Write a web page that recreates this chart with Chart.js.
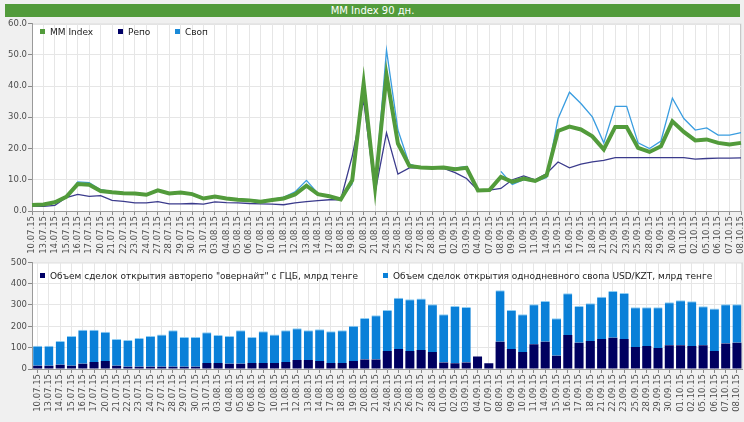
<!DOCTYPE html>
<html>
<head>
<meta charset="utf-8">
<title>MM Index 90 дн.</title>
<script src="https://cdn.jsdelivr.net/npm/chart.js@4.4.0/dist/chart.umd.min.js"></script>
<style>
    body {
        margin: 0;
        width: 744px;
        height: 422px;
        overflow: hidden;
        position: relative;
        background: #f0f0f0;
        font-family: "DejaVu Sans", sans-serif;
    }
    #title {
        position: absolute;
        left: 5px;
        top: 4px;
        width: 735px;
        height: 13px;
        background: #529b3b;
        color: #fff;
        font-size: 10px;
        line-height: 13px;
        text-align: center;
    }
    .chart-box { position: absolute; left: 0; }
    .legend-item {
        position: absolute;
        font-size: 9px;
        line-height: 11px;
        color: #222;
        white-space: nowrap;
    }
    .legend-item i {
        display: inline-block;
        width: 5px;
        height: 5px;
        margin-right: 5px;
        vertical-align: 1px;
    }
</style>
</head>
<body>
<div id="title">MM Index 90 дн.</div>
<div class="chart-box" style="top:17px"><canvas id="rateChart" width="744" height="240"></canvas></div>
<div class="chart-box" style="top:257px"><canvas id="volumeChart" width="744" height="165"></canvas></div>

<div class="legend-item" style="left:40px; top:27px"><i style="background:#529b3b"></i>MM Index</div>
<div class="legend-item" style="left:118px; top:27px"><i style="background:#000066"></i>Репо</div>
<div class="legend-item" style="left:175px; top:27px"><i style="background:#1a8ad8"></i>Своп</div>
<div class="legend-item" style="left:40px; top:271px"><i style="background:#000066"></i>Объем сделок открытия авторепо "овернайт" с ГЦБ, млрд тенге</div>
<div class="legend-item" style="left:383px; top:271px"><i style="background:#0a80d8"></i>Объем сделок открытия однодневного свопа USD/KZT, млрд тенге</div>

<script>
// Trading days
const dates = [
    '10.07.15', '13.07.15', '14.07.15', '15.07.15', '16.07.15', '17.07.15', '20.07.15', '21.07.15', '22.07.15', '23.07.15',
    '24.07.15', '27.07.15', '28.07.15', '29.07.15', '30.07.15', '31.07.15', '03.08.15', '04.08.15', '05.08.15', '06.08.15',
    '07.08.15', '10.08.15', '11.08.15', '12.08.15', '13.08.15', '14.08.15', '17.08.15', '18.08.15', '19.08.15', '20.08.15',
    '21.08.15', '24.08.15', '25.08.15', '26.08.15', '27.08.15', '28.08.15', '01.09.15', '02.09.15', '03.09.15', '04.09.15',
    '07.09.15', '08.09.15', '09.09.15', '10.09.15', '11.09.15', '14.09.15', '15.09.15', '16.09.15', '17.09.15', '18.09.15',
    '21.09.15', '22.09.15', '23.09.15', '25.09.15', '28.09.15', '29.09.15', '30.09.15', '01.10.15', '02.10.15', '05.10.15',
    '06.10.15', '07.10.15', '08.10.15'
];

// Rates, %
const mmIndex = [
    1.9, 2.1, 2.8, 4.5, 8.6, 8.4, 6.4, 6.0, 5.7, 5.6,
    5.2, 6.6, 5.6, 5.9, 5.4, 4.0, 4.6, 4.0, 3.6, 3.4,
    3.0, 3.5, 4.0, 5.3, 8.1, 5.4, 4.7, 3.7, 9.8, 40.8,
    7.5, 43.5, 21.6, 14.4, 13.9, 13.8, 13.9, 13.4, 13.8, 6.6,
    6.7, 10.9, 9.3, 10.4, 9.6, 11.4, 25.6, 27.0, 26.1, 23.9,
    19.7, 26.9, 26.9, 20.2, 18.9, 20.7, 28.7, 25.3, 22.6, 22.9,
    21.8, 21.3, 21.8
];
const repoRate = [
    1.6, 1.5, 1.8, 4.3, 5.3, 4.7, 4.9, 3.4, 3.1, 2.6,
    2.6, 3.0, 2.3, 2.3, 2.4, 2.2, 2.9, 2.7, 2.6, 2.4,
    2.3, 2.2, 2.0, 2.6, 3.0, 3.3, 3.6, 3.6, 17.5, 35.5,
    5.9, 25.0, 11.8, 13.8, 13.8, 13.8, 13.6, 12.3, 10.4, 6.6,
    6.7, 7.2, 10.0, 11.2, 10.0, 12.0, 15.7, 13.8, 15.0, 15.7,
    16.2, 17.1, 17.1, 17.1, 17.1, 17.1, 17.1, 17.1, 16.6, 16.8,
    16.9, 16.9, 17.0
];
const swapRate = [
    2.0, 2.2, 3.0, 4.6, 9.3, 9.1, 6.8, 6.2, 5.9, 5.8,
    5.4, 6.8, 5.8, 6.1, 5.6, 4.2, 4.8, 4.2, 3.8, 3.6,
    3.2, 3.7, 4.4, 6.1, 9.8, 5.6, 4.8, 3.7, 8.7, 41.9,
    7.6, 51.5, 25.9, 15.0, 13.9, 13.8, 14.0, 13.7, 14.3, null,
    null, 12.7, 8.5, 10.0, 9.4, 10.7, 29.5, 38.0, 34.4, 30.1,
    21.8, 33.5, 33.5, 21.8, 20.0, 22.4, 36.1, 29.6, 25.9, 26.6,
    24.3, 24.3, 25.1
];

// Volumes, bn tenge
const repoVolume = [
    15, 15, 20, 15, 25, 33, 37, 15, 11, 11,
    11, 11, 11, 11, 11, 28, 28, 25, 25, 28,
    28, 28, 33, 42, 42, 37, 28, 28, 37, 45,
    45, 84, 94, 84, 89, 80, 31, 27, 31, 59,
    27, 128, 94, 80, 116, 128, 62, 159, 123, 131,
    141, 147, 141, 103, 108, 98, 111, 111, 108, 111,
    84, 119, 123
];
const swapVolume = [
    94, 94, 111, 140, 159, 151, 138, 126, 125, 134,
    144, 151, 170, 139, 139, 144, 131, 130, 156, 122,
    149, 134, 148, 149, 139, 149, 149, 153, 166, 194,
    207, 193, 240, 243, 241, 223, 225, 268, 260, null,
    null, 241, 183, 176, 187, 191, 176, 196, 172, 177,
    197, 219, 215, 186, 181, 191, 202, 211, 209, 183,
    199, 184, 180
];

const rateTicks = [0, 10, 20, 30, 40, 50, 60];
const volumeTicks = [0, 100, 200, 300, 400, 500];

const FONT = 'DejaVu Sans';
const GRID = '#e6e6e6';
const AXIS = '#9a9a9a';
const LABEL = '#4d4d4d';

/**
 * White plot area with a light frame
 */
const plotBackground = {
    id: 'plotBackground',
    beforeDraw(chart) {
        const { ctx, chartArea: a } = chart;
        ctx.save();
        ctx.fillStyle = '#ffffff';
        ctx.fillRect(a.left, a.top, a.right - a.left, a.bottom - a.top);
        ctx.strokeStyle = '#c8c8c8';
        ctx.lineWidth = 1;
        ctx.strokeRect(a.left + 0.5, a.top + 0.5, a.right - a.left - 1, a.bottom - a.top);
        ctx.restore();
    }
};

function xAxis(height, offset) {
    return {
        offset: offset,
        grid: { color: GRID, tickLength: 4, tickColor: '#8a8a8a', offset: false },
        border: { color: AXIS },
        ticks: {
            autoSkip: false,
            minRotation: 90,
            maxRotation: 90,
            padding: 1,
            color: LABEL,
            font: { family: FONT, size: 8.5 }
        },
        afterFit: function(scale) {
            scale.height = height;
            scale.paddingLeft = 0;
            scale.paddingRight = 0;
        }
    };
}

function yAxis(values, digits) {
    return {
        min: values[0],
        max: values[values.length - 1],
        afterBuildTicks: function(scale) {
            scale.ticks = values.map(v => ({ value: v }));
        },
        grid: { color: GRID, tickLength: 4, tickColor: '#8a8a8a' },
        border: { color: AXIS },
        ticks: {
            padding: 1,
            color: LABEL,
            font: { family: FONT, size: 8.5 },
            callback: v => v.toFixed(digits)
        },
        afterFit: function(scale) {
            scale.width = 32;
            scale.paddingTop = 0;
            scale.paddingBottom = 0;
        }
    };
}

// Rates chart
new Chart(document.getElementById('rateChart'), {
    type: 'line',
    data: {
        labels: dates,
        datasets: [
            { label: 'MM Index', data: mmIndex, borderColor: '#529b3b', borderWidth: 4, pointRadius: 0, tension: 0 },
            { label: 'Репо', data: repoRate, borderColor: '#3b3b8c', borderWidth: 1.3, pointRadius: 0, tension: 0 },
            { label: 'Своп', data: swapRate, borderColor: '#3a9de0', borderWidth: 1.3, pointRadius: 0, tension: 0, spanGaps: false }
        ]
    },
    options: {
        responsive: false,
        animation: false,
        layout: { padding: { top: 6.5, right: 3, left: 0, bottom: 0 } },
        plugins: { legend: { display: false }, tooltip: { enabled: false } },
        scales: {
            x: xAxis(46, false),
            y: yAxis(rateTicks, 1)
        }
    },
    plugins: [plotBackground]
});

// Volumes chart
new Chart(document.getElementById('volumeChart'), {
    type: 'bar',
    data: {
        labels: dates,
        datasets: [
            {
                label: 'Объем сделок открытия авторепо "овернайт" с ГЦБ, млрд тенге',
                data: repoVolume,
                backgroundColor: '#000060',
                barPercentage: 0.8,
                categoryPercentage: 1
            },
            {
                label: 'Объем сделок открытия однодневного свопа USD/KZT, млрд тенге',
                data: swapVolume,
                backgroundColor: '#0a80d8',
                borderColor: '#8fcdf3',
                borderWidth: { top: 1, left: 0, right: 0, bottom: 0 },
                barPercentage: 0.8,
                categoryPercentage: 1
            }
        ]
    },
    options: {
        responsive: false,
        animation: false,
        layout: { padding: { top: 5.3, right: 1.4, left: 0, bottom: 0 } },
        plugins: { legend: { display: false }, tooltip: { enabled: false } },
        scales: {
            x: Object.assign(xAxis(53, true), { stacked: true }),
            y: Object.assign(yAxis(volumeTicks, 0), { stacked: true })
        }
    },
    plugins: [plotBackground]
});
</script>
</body>
</html>
